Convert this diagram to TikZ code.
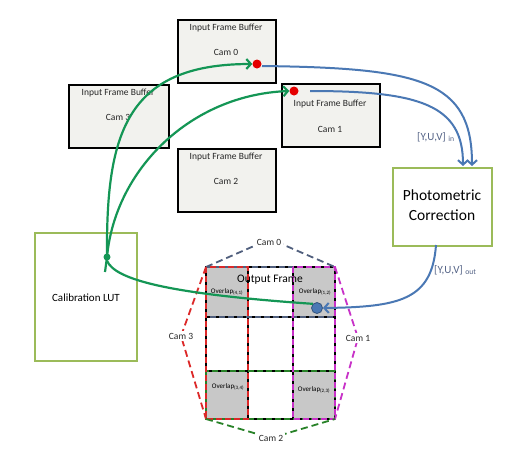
\documentclass[tikz,border=0pt]{standalone}
\usepackage{fontspec}
\setmainfont{Carlito}
\usetikzlibrary{arrows.meta,calc}
\definecolor{lgreen}{RGB}{155,187,89}
\definecolor{dgreen}{RGB}{20,150,85}
\definecolor{bline}{RGB}{74,120,180}
\definecolor{lblue}{RGB}{85,100,135}
\definecolor{boxfill}{RGB}{242,242,238}
\definecolor{cellgray}{RGB}{200,200,200}
\definecolor{cam0c}{RGB}{80,95,125}
\definecolor{cam3c}{RGB}{220,40,40}
\definecolor{cam1c}{RGB}{200,50,200}
\definecolor{cam2c}{RGB}{40,130,40}
\tikzset{
 fbuf/.style={draw=black, line width=1.8pt, fill=boxfill, anchor=north west, minimum height=63pt, minimum width=98pt, inner sep=0pt},
 gbox/.style={draw=lgreen, line width=2pt, fill=white, anchor=north west, inner sep=0pt},
 ftxt/.style={font=\fontsize{9.5}{11}\selectfont, text=black!85, inner sep=0pt},
 garrow/.style={draw=dgreen, line width=2.2pt, -{Straight Barb[length=4.5pt,width=10pt]}},
 gline/.style={draw=dgreen, line width=2.2pt},
 barrow/.style={draw=bline, line width=2pt, -{Straight Barb[length=4.5pt,width=10pt]}},
 camlbl/.style={fill=white, inner sep=2pt, font=\fontsize{9.5}{11}\selectfont, text=black!85},
 griddash/.style={line width=1.8pt, dash pattern=on 6pt off 3pt},
 hexdash/.style={line width=1.8pt, dash pattern=on 7pt off 4pt},
 ovl/.style={font=\fontsize{7}{8}\selectfont, inner sep=0pt},
 dotnode/.style={circle, inner sep=0pt, minimum size=#1},
 yuv/.style={font=\fontsize{11}{13}\selectfont, text=lblue, inner sep=0pt}
}
\begin{document}
\begin{tikzpicture}[x=1pt,y=-1pt]
\fill[white] (0,0) rectangle (508,461);
\useasboundingbox (0,0) rectangle (508,461);

% input frame buffers
\node[fbuf] (b0) at (177,19) {};
\node[ftxt] (b0a) at (226,28) {Input Frame Buffer};
\node[ftxt] (b0b) at (226,52) {Cam 0};
\node[fbuf, minimum width=100pt] (b3) at (68,84) {};
\node[ftxt] (b3a) at (118,93) {Input Frame Buffer};
\node[ftxt] (b3b) at (118,117) {Cam 3};
\node[fbuf] (b1) at (281,83) {};
\node[ftxt] (b1a) at (330,104) {Input Frame Buffer};
\node[ftxt] (b1b) at (330,129) {Cam 1};
\node[fbuf] (b2) at (177,148) {};
\node[ftxt] (b2a) at (226,157) {Input Frame Buffer};
\node[ftxt] (b2b) at (226,181) {Cam 2};

% photometric and LUT
\node[gbox, minimum width=99pt, minimum height=78pt] (pc) at (392,167) {};
\node[align=center, font=\fontsize{15.5}{20}\selectfont, inner sep=0pt] (pct) at (442,205) {Photometric\\Correction};
\node[gbox, minimum width=102pt, minimum height=128pt] (lut) at (34,232) {};
\node[font=\fontsize{11}{13}\selectfont, inner sep=0pt] (lutt) at (86,298) {Calibration LUT};

% output frame grid
\fill[cellgray] (206,267) rectangle (248,317);
\fill[cellgray] (293,267) rectangle (335,317);
\fill[cellgray] (206,371) rectangle (248,419);
\fill[cellgray] (293,371) rectangle (335,419);
\draw[black, line width=1.6pt] (248,267) -- (248,419) (293,267) -- (293,419)
  (206,317) -- (335,317) (206,371) -- (335,371);
\draw[black, line width=2.4pt] (206,267) rectangle (335,419);
\draw[griddash, cam0c] (206,267) rectangle (335,317);
\draw[griddash, cam2c] (206,371) rectangle (335,419);
\draw[griddash, cam3c] (206,267) rectangle (248,419);
\draw[griddash, cam1c] (293,267) rectangle (335,419);

% camera frustum lines
\draw[hexdash, cam0c] (206,267) -- (270,239) -- (335,267);
\draw[hexdash, cam3c] (206,267) -- (181,336) -- (206,419);
\draw[hexdash, cam1c] (335,267) -- (358,338) -- (335,419);
\draw[hexdash, cam2c] (206,419) -- (271,438) -- (335,419);
\node[camlbl] (c0) at (269,242) {Cam 0};
\node[camlbl] (c3) at (181,336) {Cam 3};
\node[camlbl] (c1) at (358,338) {Cam 1};
\node[camlbl] (c2) at (271,438) {Cam 2};

\node[font=\fontsize{11.5}{13}\selectfont, inner sep=0pt] (of) at (270,280) {Output Frame};
\node[ovl] (o41) at (227,292) {Overlap\textsubscript{(4,1)}};
\node[ovl] (o12) at (315,292) {Overlap\textsubscript{(1,2)}};
\node[ovl] (o34) at (228,387) {Overlap\textsubscript{(3,4)}};
\node[ovl] (o23) at (314,390) {Overlap\textsubscript{(2,3)}};

% dots
\node[dotnode=9pt, fill=red!90!black] (r0) at (257,64) {};
\node[dotnode=9pt, fill=red!90!black] (r1) at (294,91) {};
\node[dotnode=7pt, fill=dgreen] (gd) at (107,257) {};
\node[dotnode=11pt, fill=bline, draw=bline!70!black, line width=0.8pt] (bd) at (317,308) {};
\coordinate (stub) at (105,272);
\coordinate (b0s) at (262,66);
\coordinate (b1s) at (310,91);
\coordinate (pcA) at (472,166);
\coordinate (pcB) at (463,166);
\coordinate (pcS) at (436,245);

% green connectors
\draw[garrow] (gd.center) .. controls (106,135) and (125,64) .. (r0.west);
\draw[garrow] (gd.center) .. controls (115,170) and (190,95) .. (r1.west);
\draw[gline] (gd.center) -- (stub);
\draw[gline] (gd.south) .. controls (115,280) and (170,294) .. (bd.north west);

% blue connectors
\draw[barrow] (b0s) .. controls (420,68) and (472,80) .. (pcA);
\draw[barrow] (b1s) .. controls (420,91) and (463,105) .. (pcB);
\draw[barrow] (pcS) .. controls (432,300) and (400,307) .. (bd.east);

\node[yuv, anchor=west] (yin) at (417,137) {[Y,U,V] \textsubscript{in}};
\node[yuv, anchor=west] (yout) at (434,270) {[Y,U,V] \textsubscript{out}};
\end{tikzpicture}
\end{document}
